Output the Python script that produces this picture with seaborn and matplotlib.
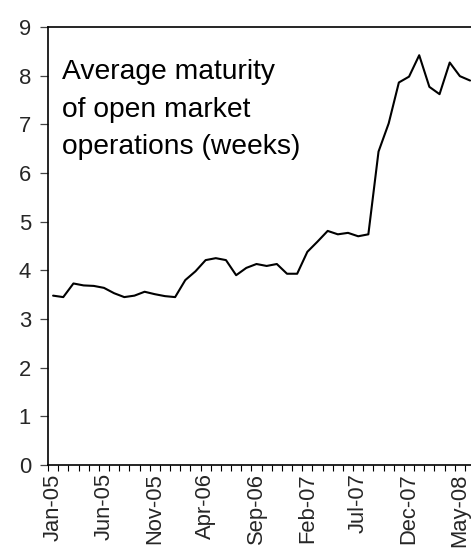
import matplotlib
matplotlib.use("Agg")
import matplotlib.pyplot as plt
from matplotlib.ticker import FixedLocator
import seaborn as sns
import pandas as pd

months = ["Jan-05", "Feb-05", "Mar-05", "Apr-05", "May-05", "Jun-05", "Jul-05", "Aug-05",
          "Sep-05", "Oct-05", "Nov-05", "Dec-05", "Jan-06", "Feb-06", "Mar-06", "Apr-06",
          "May-06", "Jun-06", "Jul-06", "Aug-06", "Sep-06", "Oct-06", "Nov-06", "Dec-06",
          "Jan-07", "Feb-07", "Mar-07", "Apr-07", "May-07", "Jun-07", "Jul-07", "Aug-07",
          "Sep-07", "Oct-07", "Nov-07", "Dec-07", "Jan-08", "Feb-08", "Mar-08", "Apr-08",
          "May-08", "Jun-08"]
maturity_weeks = [3.48, 3.45, 3.73, 3.69, 3.68, 3.64, 3.53, 3.45,
                  3.48, 3.56, 3.51, 3.47, 3.45, 3.80, 3.98, 4.21,
                  4.25, 4.21, 3.90, 4.05, 4.13, 4.09, 4.13, 3.93,
                  3.93, 4.38, 4.59, 4.81, 4.74, 4.77, 4.70, 4.74,
                  6.44, 7.02, 7.86, 7.98, 8.42, 7.77, 7.62, 8.27,
                  7.99, 7.90]
yticks = [0, 1, 2, 3, 4, 5, 6, 7, 8, 9]
label_step = 5
annotation = "Average maturity\nof open market\noperations (weeks)"

sns.set_style("white")
plt.rcParams["font.family"] = ["Liberation Sans", "DejaVu Sans"]

df = pd.DataFrame({"idx": range(len(months)), "value": maturity_weeks})

fig = plt.figure(figsize=(4.71, 5.51), dpi=100)
left = 48 / 471
right_px = 48 + 10.17 * len(months)
bottom = (551 - 465) / 551
top = (551 - 27) / 551
ax = fig.add_axes([left, bottom, (right_px - 48) / 471, top - bottom])

sns.lineplot(data=df, x="idx", y="value", ax=ax, color="black", linewidth=1.5)

ax.set_xlim(-0.5, len(months) - 0.5)
ax.set_ylim(0, 9)
ax.set_xlabel("")
ax.set_ylabel("")

major = list(range(0, len(months), label_step))
ax.set_xticks(major)
ax.set_xticklabels([months[i] for i in major], rotation=90, fontsize=15.8)
ax.xaxis.set_minor_locator(FixedLocator([i - 0.5 for i in range(len(months) + 1)]))
ax.tick_params(axis="x", which="major", length=0, pad=6)
ax.tick_params(axis="x", which="minor", length=4.5, width=0.8, color="black", direction="out", bottom=True)

ax.set_yticks(yticks)
ax.set_yticklabels([str(t) for t in yticks], fontsize=15.8)
ax.tick_params(axis="y", which="major", length=5.8, width=0.9, color="#444444", direction="out", left=True, pad=6.5)

for s in ["left", "bottom", "top"]:
    ax.spines[s].set_visible(True)
    ax.spines[s].set_color("black")
    ax.spines[s].set_linewidth(1.2)
ax.spines["right"].set_visible(False)

fig.text(62 / 471, 1 - 59 / 551, annotation, fontsize=20.3, ha="left", va="top",
         linespacing=1.58, color="black")

fig.savefig("out.png", dpi=100)
